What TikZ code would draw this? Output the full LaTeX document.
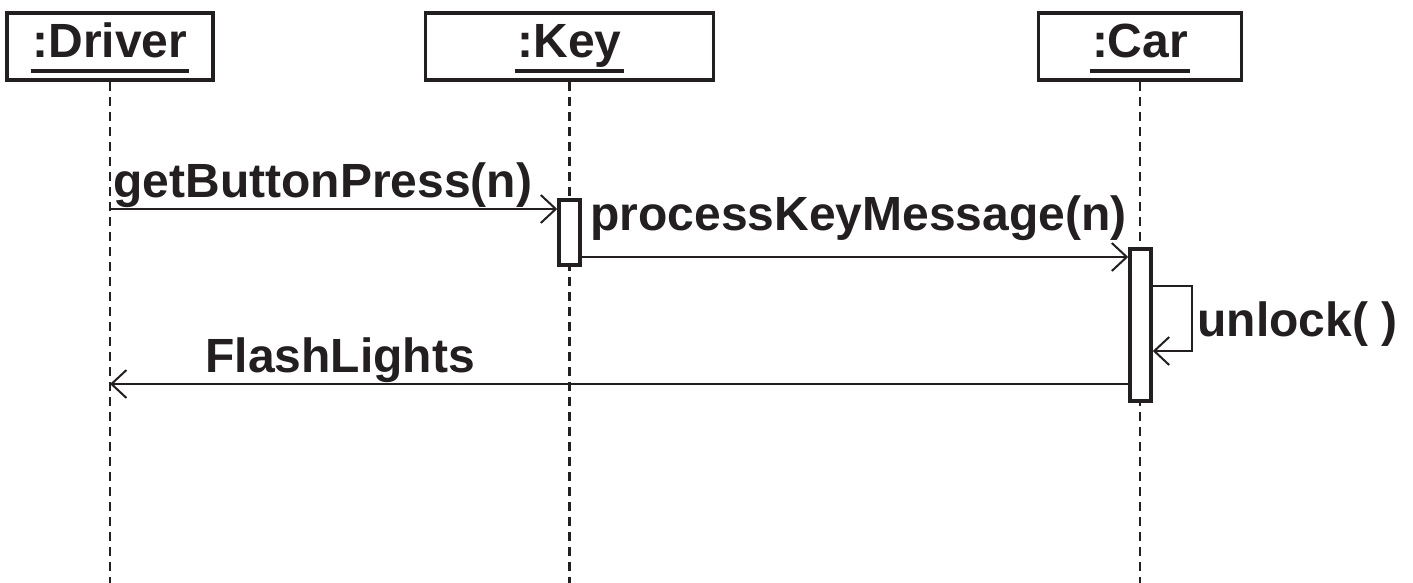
\documentclass[tikz,border=0pt]{standalone}
\usepackage{fontspec}
\setmainfont{Liberation Sans}
\usetikzlibrary{arrows.meta}
\definecolor{ink}{HTML}{231F20}
% underlined object name
\newcommand\objname[1]{\setbox0\hbox{#1}\rlap{\hskip-1pt\vrule height -5.5pt depth 7.5pt width \dimexpr\wd0+2pt\relax}\box0}

\begin{document}
\begin{tikzpicture}[x=0.5pt,y=-0.5pt,color=ink,
  font=\fontsize{24}{28}\selectfont\bfseries,
  obj/.style={draw,line width=1.75pt,minimum height=33.5pt,inner sep=0pt},
  act/.style={draw,fill=white,line width=1.75pt,minimum width=10.5pt,inner sep=0pt},
  life/.style={line width=1.3pt,dash pattern=on 4.5pt off 3pt},
  msg/.style={line width=1pt,-{Straight Barb[length=7.5pt,width=14pt,line width=1pt]}},
  lbl/.style={anchor=base west,inner sep=0pt}]
\useasboundingbox (0,0) rectangle (1413,583);

% objects
\node[obj,minimum width=103pt] (driver) at (110,46.5) {};
\node[obj,minimum width=144pt] (key) at (569.5,46.5) {};
\node[obj,minimum width=101.5pt] (car) at (1140,46.5) {};
\node[anchor=base,inner sep=0pt] (drivername) at (110,58) {\objname{:Driver}};
\node[anchor=base,inner sep=0pt] (keyname) at (569.5,58) {\objname{:Key}};
\node[anchor=base,inner sep=0pt] (carname) at (1140,58) {\objname{:Car}};

% lifelines
\coordinate (driverend) at (110,583);
\coordinate (keyend) at (569.5,583);
\coordinate (carend) at (1140,583);
\draw[life] (driver.south) -- (driverend);
\draw[life] (key.south) -- (keyend);
\draw[life] (car.south) -- (carend);

% activations
\node[act,minimum height=32.5pt] (keyact) at (569.5,232.5) {};
\node[act,minimum height=76pt] (caract) at (1140.5,325) {};

% messages
\coordinate (m1) at (0,209);
\coordinate (m2) at (0,257);
\coordinate (u1) at (1192,286);
\coordinate (u2) at (1192,351);
\coordinate (m4) at (0,384);
\draw[msg] (driver |- m1) -- (keyact.west |- m1);
\draw[msg] (keyact.east |- m2) -- (caract.west |- m2);
\draw[msg] (caract.east |- u1) -- (u1) -- (u2) -- (caract.east |- u2);
\draw[msg] (caract.west |- m4) -- (driver |- m4);

\node[lbl] (press) at (113,197) {getButtonPress(n)};
\node[lbl] (process) at (590,230) {processKeyMessage(n)};
\node[lbl] (unlock) at (1197,336) {unlock( )};
\node[lbl] (flash) at (205,372) {FlashLights};
\end{tikzpicture}
\end{document}
